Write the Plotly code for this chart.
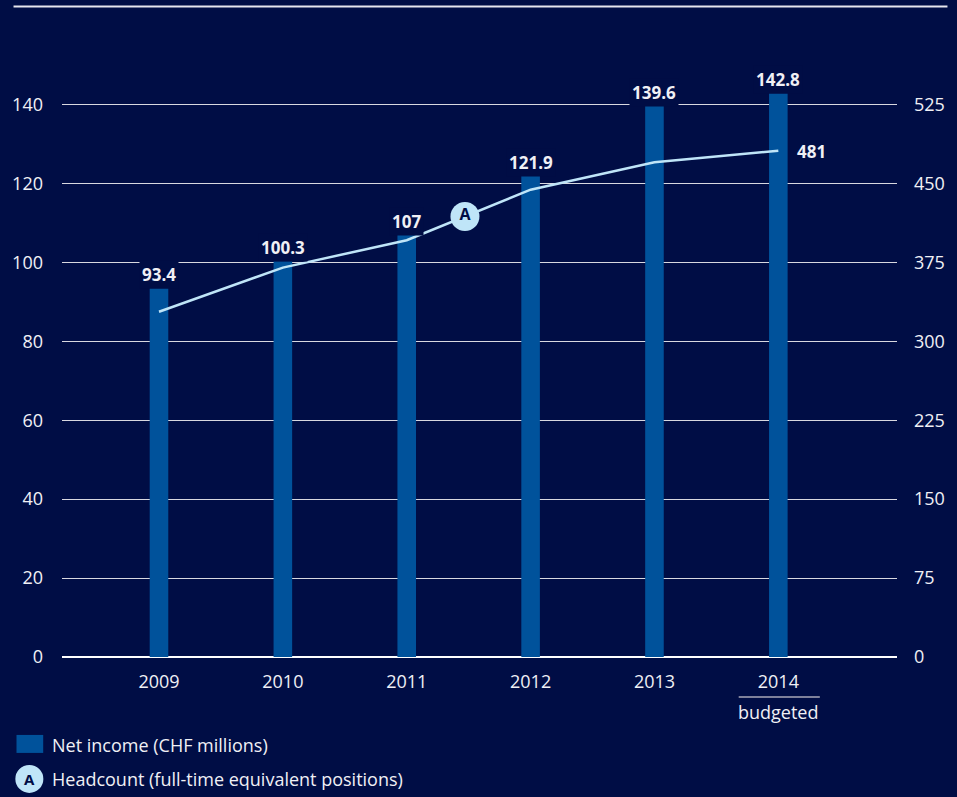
import plotly.graph_objects as go

years = [2009, 2010, 2011, 2012, 2013, 2014]
year_labels = ["2009", "2010", "2011", "2012", "2013", "2014"]
net_income = [93.4, 100.3, 107.0, 121.9, 139.6, 142.8]
net_income_labels = ["93.4", "100.3", "107", "121.9", "139.6", "142.8"]
headcount = [328, 370, 396, 444, 470, 481]
left_ticks = [0, 20, 40, 60, 80, 100, 120, 140]
right_ticks = [0, 75, 150, 225, 300, 375, 450, 525]

BG = "#000D45"
BAR = "#00529B"
LINE = "#BFE5F8"
TXT = "#F0F0F5"
FONT = "Open Sans"

W, H = 957, 797
L, R, T, B = 58, 55, 64.5, 140
PW, PH = W - L - R, H - T - B


def px(x):
    return (x - L) / PW


def py(y):
    return (H - B - y) / PH


fig = go.Figure()

fig.add_trace(go.Bar(
    x=years, y=net_income, width=0.15, marker=dict(color=BAR, line=dict(width=0)),
    showlegend=False, hoverinfo="skip",
))

fig.add_trace(go.Scatter(
    x=years, y=headcount, yaxis="y2", mode="lines",
    line=dict(color=LINE, width=2.5), showlegend=False, hoverinfo="skip",
))

# "A" marker on the line between 2011 and 2012
ax = 2011.47
ay = headcount[2] + 0.47 * (headcount[3] - headcount[2])
fig.add_trace(go.Scatter(
    x=[ax], y=[ay], yaxis="y2", mode="markers+text", text=["<b>A</b>"],
    textposition="middle center", textfont=dict(color=BG, size=16, family=FONT),
    marker=dict(size=29, color=LINE, line=dict(width=0)),
    showlegend=False, hoverinfo="skip", cliponaxis=False,
))

annotations = []
for x, v, lab in zip(years, net_income, net_income_labels):
    annotations.append(dict(
        x=x, y=v, xref="x", yref="y", text=f"<b>{lab}</b>", showarrow=False,
        yanchor="bottom", yshift=-1, font=dict(color=TXT, size=17, family=FONT),
        bgcolor=BG, borderpad=2,
    ))
annotations.append(dict(
    x=years[-1], y=headcount[-1], xref="x", yref="y2", text=f"<b>{headcount[-1]}</b>",
    showarrow=False, xanchor="left", xshift=17, yshift=-1,
    font=dict(color=TXT, size=17, family=FONT),
))
annotations.append(dict(
    x=years[-1], y=py(712), xref="x", yref="paper", text="budgeted", showarrow=False,
    font=dict(color=TXT, size=18, family=FONT), yanchor="middle",
))
annotations.append(dict(
    x=px(46), y=py(745), xref="paper", yref="paper", text="Net income (CHF millions)",
    showarrow=False, xanchor="left", yanchor="middle",
    font=dict(color=TXT, size=18, family=FONT),
))
annotations.append(dict(
    x=px(46), y=py(779), xref="paper", yref="paper",
    text="Headcount (full-time equivalent positions)",
    showarrow=False, xanchor="left", yanchor="middle",
    font=dict(color=TXT, size=18, family=FONT),
))
annotations.append(dict(
    x=px(25), y=py(779), xref="paper", yref="paper", text="<b>A</b>",
    showarrow=False, xanchor="center", yanchor="middle",
    font=dict(color=BG, size=15, family=FONT),
))

shapes = [
    # top rule
    dict(type="line", xref="paper", yref="paper", x0=px(9), x1=px(953), y0=py(6), y1=py(6),
         line=dict(color="#E6E6EE", width=2)),
    # budgeted underline
    dict(type="line", xref="paper", yref="paper", x0=px(742), x1=px(824), y0=py(697), y1=py(697),
         line=dict(color="#A8A8B8", width=1.5)),
    # legend square
    dict(type="rect", xref="paper", yref="paper", x0=px(12), x1=px(39), y0=py(753), y1=py(735),
         fillcolor=BAR, line=dict(width=0)),
    # legend circle
    dict(type="circle", xref="paper", yref="paper", xsizemode="pixel", ysizemode="pixel",
         xanchor=px(25), yanchor=py(779), x0=-14, x1=14, y0=-14, y1=14,
         fillcolor=LINE, line=dict(width=0)),
]

fig.update_layout(
    width=W, height=H, margin=dict(l=L, r=R, t=T, b=B, pad=0),
    paper_bgcolor=BG, plot_bgcolor=BG,
    font=dict(family=FONT, color=TXT, size=18),
    xaxis=dict(
        range=[2008.217, 2014.958], tickvals=years, ticktext=year_labels,
        showgrid=False, zeroline=False, showline=False, ticks="",
        tickfont=dict(size=18, color=TXT), ticklabelstandoff=12, fixedrange=True,
    ),
    yaxis=dict(
        range=[0, 150], tickvals=left_ticks, showgrid=True, gridcolor="#D8D8E0", gridwidth=1.2,
        zeroline=True, zerolinecolor="#FFFFFF", zerolinewidth=1.5,
        showline=False, ticks="", tickfont=dict(size=18, color=TXT), ticklabelstandoff=18,
        fixedrange=True,
    ),
    yaxis2=dict(
        range=[0, 562.5], tickvals=right_ticks, overlaying="y", side="right",
        showgrid=False, zeroline=False, showline=False, ticks="",
        tickfont=dict(size=18, color=TXT), ticklabelstandoff=16, fixedrange=True,
    ),
    annotations=annotations, shapes=shapes, showlegend=False,
)

fig.write_html(
    "out.html",
    config={"displayModeBar": False},
    post_script="document.body.style.margin='0';document.body.style.overflow='hidden';"
                "document.body.style.background='" + BG + "';",
)
